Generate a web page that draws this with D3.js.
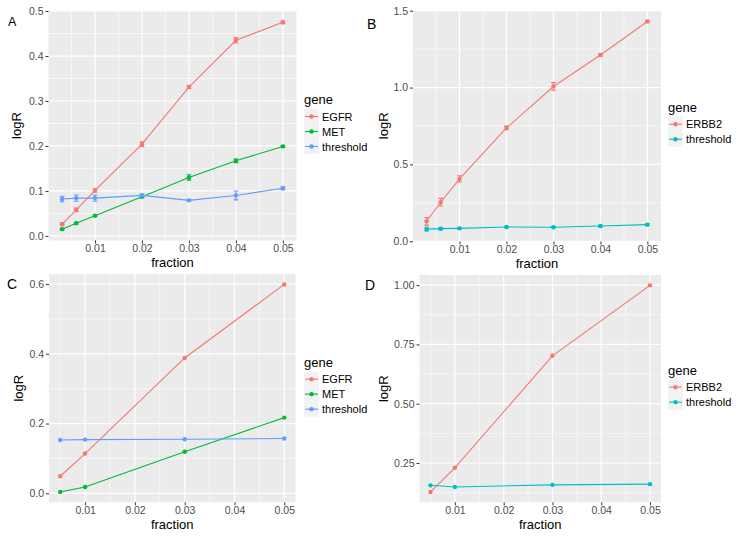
<!DOCTYPE html>
<html><head><meta charset="utf-8">
<script src="https://cdn.jsdelivr.net/npm/d3@7"></script>
<style>
body{margin:0;background:#fff}
svg{display:block}
text{font-family:"Liberation Sans",Arial,sans-serif}
</style>
</head><body>
<svg id="chart" width="737" height="536"></svg>
<script>
// ---------- DATA ----------
const fractionAB = [0.003, 0.006, 0.01, 0.02, 0.03, 0.04, 0.05];
const fractionCD = [0.005, 0.01, 0.03, 0.05];

// Panel A
const egfrA      = [0.026, 0.058, 0.101, 0.204, 0.331, 0.435, 0.475];
const egfrAErr   = [0.003, 0.004, 0.004, 0.005, 0.003, 0.006, 0.003];
const metA       = [0.015, 0.028, 0.045, 0.087, 0.130, 0.167, 0.199];
const metAErr    = [0.002, 0.002, 0.002, 0.002, 0.006, 0.004, 0.002];
const threshA    = [0.082, 0.084, 0.084, 0.090, 0.079, 0.090, 0.106];
const threshAErr = [0.006, 0.007, 0.007, 0.003, 0.002, 0.010, 0.003];

// Panel B
const erbb2B      = [0.130, 0.254, 0.406, 0.737, 1.007, 1.212, 1.430];
const erbb2BErr   = [0.025, 0.025, 0.020, 0.012, 0.025, 0.008, 0.006];
const threshB     = [0.079, 0.082, 0.084, 0.093, 0.091, 0.099, 0.108];
const threshBErr  = [0.012, 0.008, 0.006, 0.005, 0.005, 0.005, 0.005];

// Panel C
const egfrC   = [0.049, 0.114, 0.388, 0.599];
const metC    = [0.004, 0.018, 0.119, 0.217];
const threshC = [0.153, 0.154, 0.155, 0.157];

// Panel D
const erbb2D  = [0.128, 0.230, 0.702, 0.999];
const threshD = [0.156, 0.149, 0.158, 0.161];

// Ticks
const xTicks  = [0.01, 0.02, 0.03, 0.04, 0.05];
const yTicksA = [0.0, 0.1, 0.2, 0.3, 0.4, 0.5];
const yTicksB = [0.0, 0.5, 1.0, 1.5];
const yTicksC = [0.0, 0.2, 0.4, 0.6];
const yTicksD = [0.25, 0.50, 0.75, 1.00];

const genes3 = ["EGFR", "MET", "threshold"];
const genes2 = ["ERBB2", "threshold"];
const colors3 = ["#F8766D", "#00BA38", "#619CFF"];
const colors2 = ["#F8766D", "#00BFC4"];
const errWidth = 0.001;

// ---------- LAYOUT ----------
const panels = [
  {letter:"A", lx:8,   ly:26,  fs:12.5, rect:{x0:48.5, x1:296.5, y0:10.5, y1:240.5},
   x:fractionAB, series:[egfrA, metA, threshA], errs:[egfrAErr, metAErr, threshAErr],
   genes:genes3, colors:colors3, yTicks:yTicksA, yfmt:d3.format(".1f"), ylabX:16.5, legX:304},
  {letter:"B", lx:367, ly:29,  fs:14, rect:{x0:413, x1:661, y0:10, y1:241.5},
   x:fractionAB, series:[erbb2B, threshB], errs:[erbb2BErr, threshBErr],
   genes:genes2, colors:colors2, yTicks:yTicksB, yfmt:d3.format(".1f"), ylabX:383, legX:668},
  {letter:"C", lx:7,   ly:288.5, fs:14, rect:{x0:49, x1:295.5, y0:274, y1:502.3},
   x:fractionCD, series:[egfrC, metC, threshC], errs:null,
   genes:genes3, colors:colors3, yTicks:yTicksC, yfmt:d3.format(".1f"), ylabX:18, legX:304},
  {letter:"D", lx:365, ly:289.5, fs:14, rect:{x0:419.5, x1:661, y0:275, y1:502.3},
   x:fractionCD, series:[erbb2D, threshD], errs:null,
   genes:genes2, colors:colors2, yTicks:yTicksD, yfmt:d3.format(".2f"), ylabX:383, legX:668}
];

const svg = d3.select("#chart");

function expand(lo, hi){ const r = hi - lo; return [lo - 0.05*r, hi + 0.05*r]; }
function minors(majors, dom){
  const step = majors[1]-majors[0];
  const out = [];
  const all = [majors[0]-step, ...majors];
  for (let i=0;i<all.length;i++){ const m = all[i]+step/2; if (m>dom[0] && m<dom[1]) out.push(m); }
  return out;
}

panels.forEach(p => {
  const r = p.rect;
  const g = svg.append("g");
  const hasErr = !!p.errs;
  const xlo = d3.min(p.x) - (hasErr ? errWidth/2 : 0);
  const xhi = d3.max(p.x) + (hasErr ? errWidth/2 : 0);
  let ylo = Infinity, yhi = -Infinity;
  p.series.forEach((s,si) => s.forEach((v,i) => {
    const e = hasErr ? p.errs[si][i] : 0;
    ylo = Math.min(ylo, v - e); yhi = Math.max(yhi, v + e);
  }));
  const xDom = expand(xlo, xhi), yDom = expand(ylo, yhi);
  const x = d3.scaleLinear().domain(xDom).range([r.x0, r.x1]);
  const y = d3.scaleLinear().domain(yDom).range([r.y1, r.y0]);

  g.append("rect").attr("x", r.x0).attr("y", r.y0).attr("width", r.x1-r.x0).attr("height", r.y1-r.y0).attr("fill", "#EBEBEB");
  const yT = p.yTicks.filter(t => t>=yDom[0] && t<=yDom[1]);
  minors(xTicks, xDom).forEach(t => g.append("line").attr("x1", x(t)).attr("x2", x(t)).attr("y1", r.y0).attr("y2", r.y1).attr("stroke", "#fff").attr("stroke-width", 0.6));
  minors(p.yTicks, yDom).forEach(t => g.append("line").attr("y1", y(t)).attr("y2", y(t)).attr("x1", r.x0).attr("x2", r.x1).attr("stroke", "#fff").attr("stroke-width", 0.6));
  xTicks.forEach(t => g.append("line").attr("x1", x(t)).attr("x2", x(t)).attr("y1", r.y0).attr("y2", r.y1).attr("stroke", "#fff").attr("stroke-width", 1.2));
  yT.forEach(t => g.append("line").attr("y1", y(t)).attr("y2", y(t)).attr("x1", r.x0).attr("x2", r.x1).attr("stroke", "#fff").attr("stroke-width", 1.2));

  const xAxis = d3.axisBottom(x).tickValues(xTicks).tickSize(3).tickPadding(1).tickFormat(d3.format(".2f"));
  const gx = g.append("g").attr("transform", `translate(0,${r.y1})`).call(xAxis);
  gx.select(".domain").remove();
  gx.selectAll("line").attr("stroke", "#333");
  gx.selectAll("text").attr("fill", "#4D4D4D").style("font-size", "10.5px").style("font-family", "Liberation Sans, Arial, sans-serif");
  const yAxis = d3.axisLeft(y).tickValues(yT).tickSize(3).tickPadding(2).tickFormat(p.yfmt);
  const gy = g.append("g").attr("transform", `translate(${r.x0},0)`).call(yAxis);
  gy.select(".domain").remove();
  gy.selectAll("line").attr("stroke", "#333");
  gy.selectAll("text").attr("fill", "#4D4D4D").style("font-size", "10.5px").style("font-family", "Liberation Sans, Arial, sans-serif");

  g.append("text").attr("x", (r.x0+r.x1)/2).attr("y", r.y1 + 26.5).attr("text-anchor", "middle").style("font-size", "13px").attr("fill", "#000").text("fraction");
  g.append("text").attr("transform", `translate(${p.ylabX + 4.5},${(r.y0+r.y1)/2}) rotate(-90)`).attr("text-anchor", "middle").style("font-size", "13px").attr("fill", "#000").text("logR");

  g.append("text").attr("x", p.lx).attr("y", p.ly).style("font-size", p.fs + "px").attr("fill", "#000").text(p.letter);

  const line = d3.line().x((d,i) => x(p.x[i])).y(d => y(d));
  p.series.forEach((s, si) => {
    const col = p.colors[si];
    g.append("path").datum(s).attr("d", line).attr("fill", "none").attr("stroke", col).attr("stroke-width", 1.1);
    if (hasErr) {
      s.forEach((v,i) => {
        const e = p.errs[si][i];
        const xc = x(p.x[i]), xl = x(p.x[i]-errWidth/2), xr = x(p.x[i]+errWidth/2);
        g.append("path").attr("d", `M${xl},${y(v+e)}H${xr}M${xc},${y(v+e)}V${y(v-e)}M${xl},${y(v-e)}H${xr}`)
          .attr("stroke", col).attr("stroke-width", 1.1).attr("fill", "none");
      });
    }
    g.selectAll(null).data(s).enter().append("circle")
      .attr("cx", (d,i) => x(p.x[i])).attr("cy", d => y(d)).attr("r", 2.2).attr("fill", col);
  });

  const n = p.genes.length;
  const blockH = 10 + 12.5 + 15*(n-1) + 7.5;
  const top = (r.y0 + r.y1)/2 - 1.5 - blockH/2;
  const base = top + 10;
  const lg = g.append("g");
  lg.append("text").attr("x", p.legX).attr("y", base).style("font-size", "13px").attr("fill", "#000").text("gene");
  p.genes.forEach((gn, i) => {
    const cy = base + 12.5 + 15*i;
    lg.append("rect").attr("x", p.legX).attr("y", cy-7.5).attr("width", 15).attr("height", 15).attr("fill", "#F2F2F2");
    lg.append("line").attr("x1", p.legX+1).attr("x2", p.legX+14).attr("y1", cy).attr("y2", cy).attr("stroke", p.colors[i]).attr("stroke-width", 1.1);
    lg.append("circle").attr("cx", p.legX+7.5).attr("cy", cy).attr("r", 2.2).attr("fill", p.colors[i]);
    lg.append("text").attr("x", p.legX+18).attr("y", cy+4).style("font-size", "11px").attr("fill", "#000").text(gn);
  });
});
</script>
</body></html>
